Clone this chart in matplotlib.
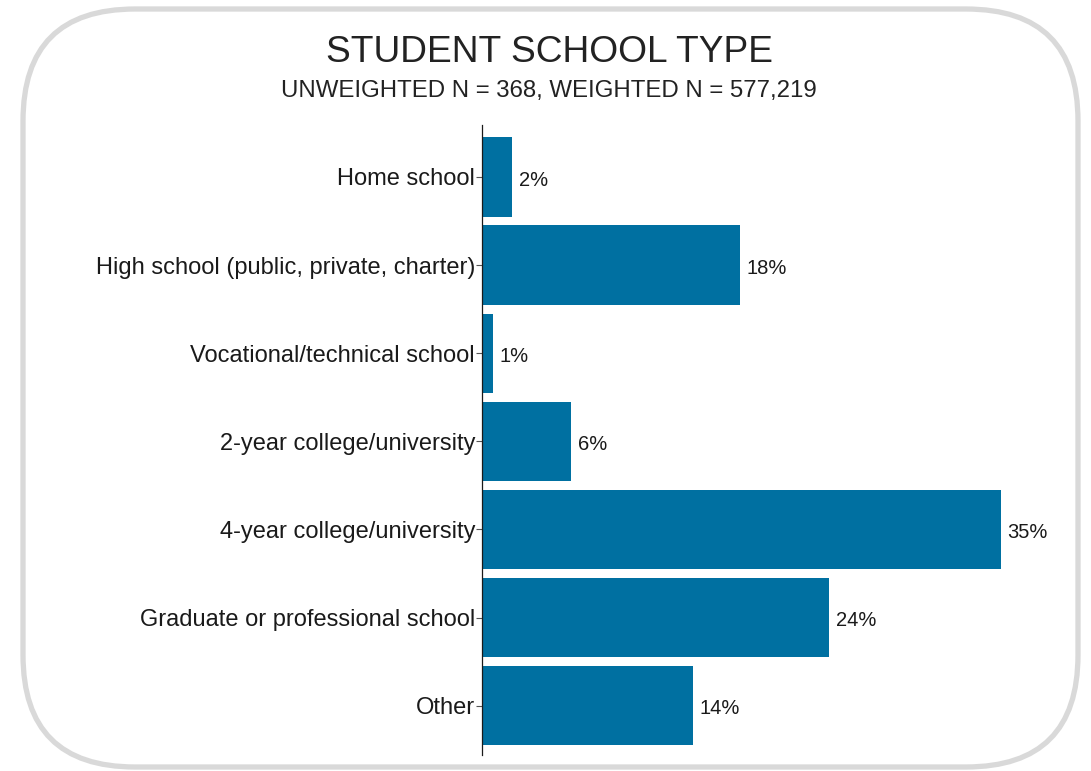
import matplotlib
matplotlib.use("Agg")
import matplotlib.pyplot as plt
from matplotlib.patches import FancyBboxPatch

categories = [
    "Home school",
    "High school (public, private, charter)",
    "Vocational/technical school",
    "2-year college/university",
    "4-year college/university",
    "Graduate or professional school",
    "Other",
]
values = [2.05, 17.6, 0.75, 6.1, 35.4, 23.7, 14.4]
title = "STUDENT SCHOOL TYPE"
subtitle = "UNWEIGHTED N = 368, WEIGHTED N = 577,219"

plt.rcParams['font.family'] = ['Liberation Sans', 'DejaVu Sans']

W, H = 1091, 771
fig = plt.figure(figsize=(W / 100, H / 100), dpi=100)

# Background frame axes in pixel coordinates
bg = fig.add_axes([0, 0, 1, 1])
bg.set_xlim(0, W)
bg.set_ylim(H, 0)
bg.axis("off")
frame = FancyBboxPatch((23, 9), 1055, 758,
                       boxstyle="round,pad=0,rounding_size=112",
                       facecolor="white", edgecolor="#d9d9d9", linewidth=3.8)
bg.add_patch(frame)

# Main axes
left_px, right_px = 482, 1060
top_px, bot_px = 125, 755
ax = fig.add_axes([left_px / W, 1 - bot_px / H, (right_px - left_px) / W, (bot_px - top_px) / H])
ax.patch.set_alpha(0)

y = list(range(len(categories)))
ax.barh(y, values, height=0.9, color="#0070a1")
ax.set_ylim(len(categories) - 1 + 0.56, -0.59)
ax.set_xlim(0, (right_px - left_px) / 14.66)

for yi, v in zip(y, values):
    ax.text(v + 0.45, yi + 0.035, f"{round(v)}%", va="center", ha="left", fontsize=14.5, color="#1a1a1a")

ax.set_yticks(y)
ax.set_yticklabels(categories, fontsize=17, color="#1a1a1a")
ax.tick_params(axis="y", length=4, width=0.8, color="#555555", pad=1)
ax.set_xticks([])
for s in ["top", "right", "bottom"]:
    ax.spines[s].set_visible(False)
ax.spines["left"].set_color("#1a1a1a")
ax.spines["left"].set_linewidth(0.9)

fig.text(550 / W, 1 - 53 / H, title, ha="center", va="center", fontsize=26.7, color="#222222")
fig.text(548.5 / W, 1 - 91 / H, subtitle, ha="center", va="center", fontsize=17.3, color="#222222")

fig.savefig("out.png", dpi=100)
